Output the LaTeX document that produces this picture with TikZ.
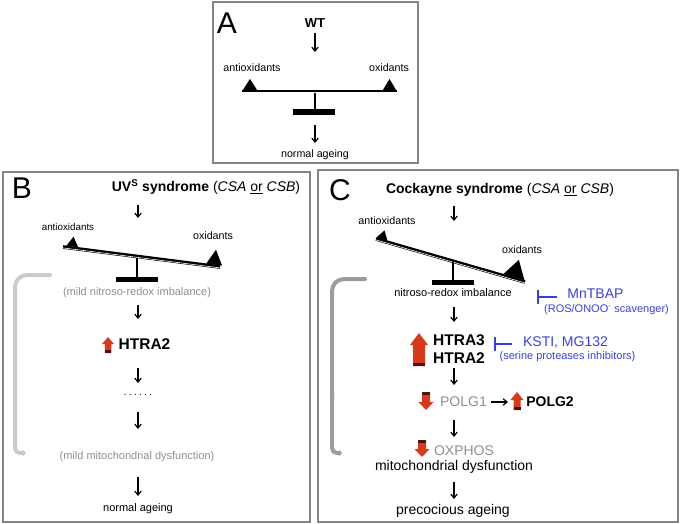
\documentclass[tikz,border=0pt]{standalone}
\usepackage{fontspec}
\setmainfont{Liberation Sans}
\usetikzlibrary{arrows.meta}
\definecolor{panelgray}{HTML}{858585}
\definecolor{txtgray}{HTML}{8E8E8E}
\definecolor{lightbr}{HTML}{CBCBCB}
\definecolor{darkbr}{HTML}{9C9C9C}
\definecolor{inhblue}{HTML}{3A40E0}
\definecolor{upred}{HTML}{D63A1B}
\definecolor{reddark}{HTML}{4A1408}
\newcommand{\fsz}[1]{\fontsize{#1}{#1}\selectfont}
% cx, ytop, ybottom, headwidth, shaftwidth, headlength
\newcommand{\RedUp}[6]{%
  \fill[upred] (#1-#4/2,#2+#6) -- (#1,#2) -- (#1+#4/2,#2+#6) -- (#1+#5/2,#2+#6) -- (#1+#5/2,#3) -- (#1-#5/2,#3) -- (#1-#5/2,#2+#6) -- cycle;
  \fill[reddark] (#1-#5/2,#3-3) rectangle (#1+#5/2,#3);}
% cx, ytop, ybottom, headwidth, shaftwidth, headlength
\newcommand{\RedDown}[6]{%
  \fill[upred] (#1-#4/2,#3-#6) -- (#1,#3) -- (#1+#4/2,#3-#6) -- (#1+#5/2,#3-#6) -- (#1+#5/2,#2) -- (#1-#5/2,#2) -- (#1-#5/2,#3-#6) -- cycle;
  \fill[reddark] (#1-#5/2,#2) rectangle (#1+#5/2,#2+3);}
% beam: midx, midy, angle, length
\newcommand{\Beam}[4]{%
  \begin{scope}[shift={(#1,#2)},rotate=-#3]
    \fill[black] (-#4/2,-1.8) rectangle (#4/2,1.8);
    \draw[white,line width=0.6pt] (-#4/2,0.9) -- (#4/2,0.9);
  \end{scope}}
% triangle on beam: midx, midy, angle, u, width, height
\newcommand{\BeamTri}[6]{%
  \begin{scope}[shift={(#1,#2)},rotate=-#3]
    \fill[black] (#4-#5/2,-1.6) -- (#4,-1.6-#6) -- (#4+#5/2,-1.6) -- cycle;
  \end{scope}}
\begin{document}
\begin{tikzpicture}[x=1pt,y=-1pt,
  panel/.style={draw=panelgray,line width=1.1pt},
  lbl/.style={inner sep=0pt,anchor=center},
  arr/.style={-{Straight Barb[length=4pt,width=6.5pt]},line width=1.2pt},
  inh/.style={draw=inhblue,line width=2.2pt},
  fb/.style={line width=4pt,line cap=round}]
\useasboundingbox (0,0) rectangle (680,524);

%% ---------------- Panel A ----------------
\draw[panel] (213,2) rectangle (418,163);
\node[lbl] (Aletter) at (227,23) {\fsz{30}A};
\node[lbl] (wt) at (315,23) {\fsz{13}\textbf{WT}};
\coordinate (a1s) at (315,33); \coordinate (a1e) at (315,52);
\draw[arr] (a1s) -- (a1e);
\node[lbl] (Aanti) at (252,68) {\fsz{10.7}antioxidants};
\node[lbl] (Aoxi) at (389,68) {\fsz{10.7}oxidants};
\Beam{319.5}{91.5}{0}{155}
\BeamTri{319.5}{91.5}{0}{-69.5}{14}{11}
\BeamTri{319.5}{91.5}{0}{70}{13}{11}
\draw[line width=2.5pt] (315,93) -- (315,110);
\fill (293,109) rectangle (335,115);
\coordinate (a2s) at (315,125); \coordinate (a2e) at (315,143);
\draw[arr] (a2s) -- (a2e);
\node[lbl] (Anorm) at (315,155) {\fsz{10.7}normal ageing};

%% ---------------- Panel B ----------------
\draw[panel] (3,172) rectangle (310,522);
\node[lbl] (Bletter) at (22,188) {\fsz{30}B};
\node[lbl] (Btitle) at (206,187) {\fsz{14}\textbf{UV\textsuperscript{S} syndrome} (\textit{CSA} \underline{or} \textit{CSB})};
\coordinate (b1s) at (138,205); \coordinate (b1e) at (138,218);
\draw[arr] (b1s) -- (b1e);
\node[lbl] (Banti) at (68,227) {\fsz{9.8}antioxidants};
\node[lbl] (Boxi) at (213,236) {\fsz{10.7}oxidants};
\Beam{141.5}{257}{7.26}{158.3}
\BeamTri{141.5}{257}{7.26}{-70}{12}{10}
\BeamTri{141.5}{257}{7.26}{73}{16}{15}
\draw[line width=2.5pt] (137,258) -- (137,278);
\fill (116,277) rectangle (158,282);
\node[lbl,text=txtgray] (Bimb) at (137,293) {\fsz{11}(mild nitroso-redox imbalance)};
\coordinate (b2s) at (138,305); \coordinate (b2e) at (138,319);
\draw[arr] (b2s) -- (b2e);
\RedUp{108}{337}{353}{12}{6.5}{7}
\node[lbl] (Bhtra) at (144.5,344) {\fsz{15.5}\textbf{HTRA2}};
\coordinate (b3s) at (138,368); \coordinate (b3e) at (138,383);
\draw[arr] (b3s) -- (b3e);
\node[lbl] (Bdots) at (138,395) {\fsz{10}.\hspace{2.3pt}.\hspace{2.3pt}.\hspace{2.3pt}.\hspace{2.3pt}.\hspace{2.3pt}.};
\coordinate (b4s) at (138,412); \coordinate (b4e) at (138,429);
\draw[arr] (b4s) -- (b4e);
\node[lbl,text=txtgray] (Bmito) at (137,457) {\fsz{11}(mild mitochondrial dysfunction)};
\coordinate (b5s) at (138,477); \coordinate (b5e) at (138,496);
\draw[arr] (b5s) -- (b5e);
\node[lbl] (Bnorm) at (138,509) {\fsz{11}normal ageing};
\coordinate (bfs) at (50,275); \coordinate (bfe) at (26,453);
\draw[fb,draw=lightbr,rounded corners=12pt] (bfs) -| (15,400);
\draw[fb,draw=lightbr,rounded corners=5pt,-{Triangle[length=3pt,width=6pt]}] (15,395) |- (bfe);

%% ---------------- Panel C ----------------
\draw[panel] (318,170) rectangle (678,522);
\node[lbl] (Cletter) at (340,190) {\fsz{30}C};
\node[lbl] (Ctitle) at (500,190) {\fsz{14}\textbf{Cockayne syndrome} (\textit{CSA} \underline{or} \textit{CSB})};
\coordinate (c1s) at (454,206); \coordinate (c1e) at (454,221);
\draw[arr] (c1s) -- (c1e);
\node[lbl] (Canti) at (387,221) {\fsz{10.7}antioxidants};
\node[lbl] (Coxi) at (522,250) {\fsz{10.7}oxidants};
\Beam{450.5}{260.5}{16.1}{155.1}
\BeamTri{450.5}{260.5}{16.1}{-71.8}{11.5}{9}
\BeamTri{450.5}{260.5}{16.1}{65.5}{22}{18}
\draw[line width=2.5pt] (453,262) -- (453,281);
\fill (432,280) rectangle (474,285);
\node[lbl] (Cimb) at (453,293) {\fsz{11}nitroso-redox imbalance};
\coordinate (c2s) at (454,307); \coordinate (c2e) at (454,322);
\draw[arr] (c2s) -- (c2e);
% MnTBAP inhibitor
\coordinate (t1a) at (538,290); \coordinate (t1b) at (538,304);
\coordinate (t1c) at (538,297); \coordinate (t1d) at (557,297);
\draw[inh] (t1a) -- (t1b);
\draw[inh] (t1c) -- (t1d);
\node[lbl,text=inhblue] (mnt) at (595.5,294) {\fsz{14}MnTBAP};
\node[lbl,text=inhblue] (ros) at (606.5,310) {\fsz{11}(ROS/ONOO\textsuperscript{-} scavenger)};
% HTRA
\RedUp{419}{333}{366}{18}{12}{12}
\node[lbl] (Chtra3) at (459,340) {\fsz{15.5}\textbf{HTRA3}};
\node[lbl] (Chtra2) at (459,358) {\fsz{15.5}\textbf{HTRA2}};
% KSTI inhibitor
\coordinate (t2a) at (495,337); \coordinate (t2b) at (495,351);
\coordinate (t2c) at (495,344); \coordinate (t2d) at (512,344);
\draw[inh] (t2a) -- (t2b);
\draw[inh] (t2c) -- (t2d);
\node[lbl,text=inhblue] (ksti) at (565.5,343) {\fsz{14}KSTI, MG132};
\node[lbl,text=inhblue] (ser) at (567.5,357) {\fsz{11}(serine proteases inhibitors)};
\coordinate (c3s) at (454,368); \coordinate (c3e) at (454,385);
\draw[arr] (c3s) -- (c3e);
% POLG
\RedDown{426}{392}{410}{15}{8}{8}
\node[lbl,text=txtgray] (polg1) at (463.5,402) {\fsz{14}POLG1};
\draw[arr] (polg1.east) ++(4,0) coordinate (pa) -- (508,402) coordinate (pb);
\RedUp{517}{392}{410}{13}{7}{8}
\node[lbl] (polg2) at (550,402) {\fsz{14}\textbf{POLG2}};
\coordinate (c4s) at (454,420); \coordinate (c4e) at (454,437);
\draw[arr] (c4s) -- (c4e);
% OXPHOS
\RedDown{422}{440}{457}{15}{8}{8}
\node[lbl,text=txtgray] (oxphos) at (464,451) {\fsz{14}OXPHOS};
\node[lbl] (Cmito) at (454,467) {\fsz{14}mitochondrial dysfunction};
\coordinate (c5s) at (454,482); \coordinate (c5e) at (454,499);
\draw[arr] (c5s) -- (c5e);
\node[lbl] (Cprec) at (453,511) {\fsz{14}precocious ageing};
\coordinate (cfs) at (365,279); \coordinate (cfe) at (342,453);
\draw[fb,draw=darkbr,rounded corners=12pt] (cfs) -| (332,400);
\draw[fb,draw=darkbr,rounded corners=5pt,-{Triangle[length=3pt,width=6pt]}] (332,395) |- (cfe);
\end{tikzpicture}
\end{document}
